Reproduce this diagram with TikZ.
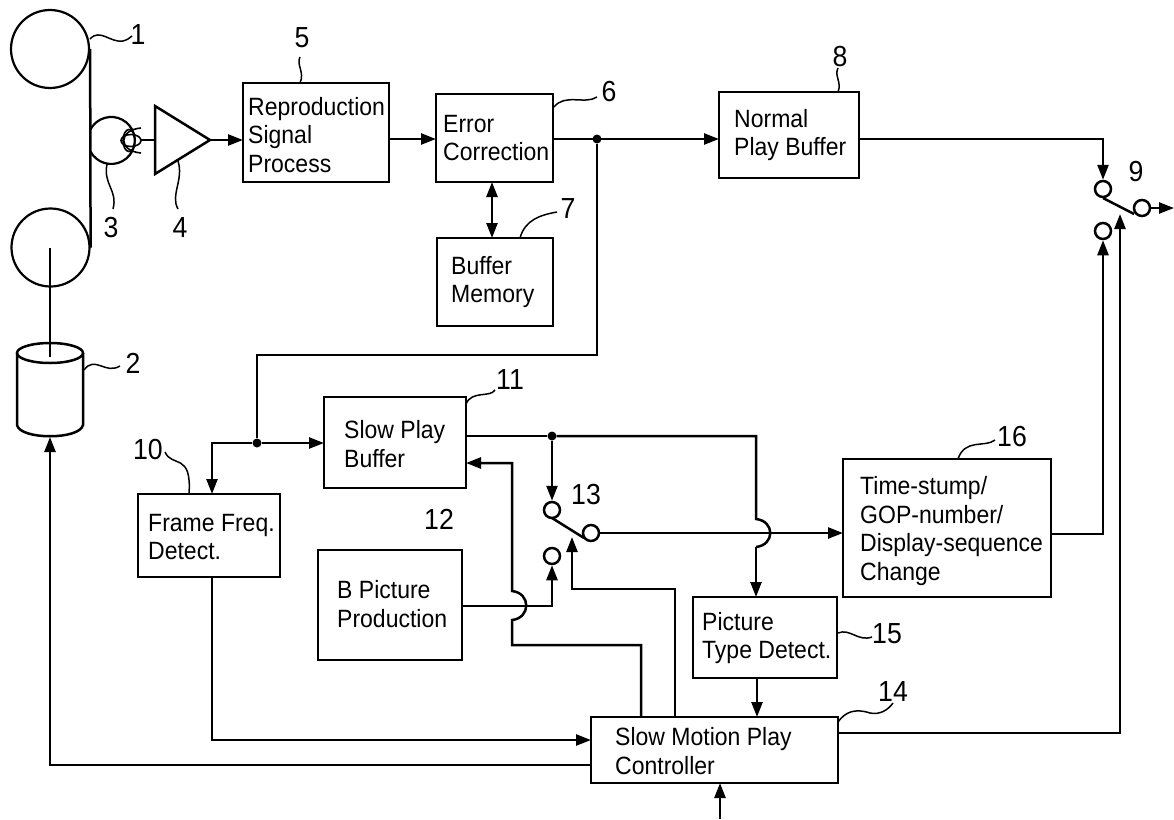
\documentclass[tikz,border=0pt]{standalone}
\usepackage{fontspec}
\setmainfont[FakeStretch=0.92]{Liberation Sans}
\usetikzlibrary{arrows.meta}
\tikzset{
 box/.style={draw,line width=2.5pt,inner sep=0pt,outer sep=0pt,anchor=north west,text width=0pt},
 lab/.style={font=\fontsize{29}{30}\selectfont,inner sep=0pt},
 txt/.style={font=\fontsize{25}{28.5}\selectfont,align=left,inner sep=0pt,anchor=west},
 wire/.style={line width=2.5pt,-{Triangle[length=15pt,width=11pt]}},
 dwire/.style={line width=2.5pt,{Triangle[length=15pt,width=11pt]}-{Triangle[length=15pt,width=11pt]}},
 line/.style={line width=2.5pt},
 lead/.style={line width=1.5pt},
 term/.style={draw,circle,line width=2.5pt,minimum size=16pt,inner sep=0pt},
 dot/.style={fill,circle,minimum size=9pt,inner sep=0pt},
 reel/.style={draw,circle,line width=2.2pt,minimum size=78pt,inner sep=0pt},
}
\begin{document}
\begin{tikzpicture}[x=1pt,y=-1pt]
\useasboundingbox (0,0) rectangle (1174,819);
% boxes
\node[box,minimum width=146pt,minimum height=99pt] (b5) at (243,83) {};
\node[txt] (b5t) at (248,135) {Reproduction\\Signal\\Process};
\node[box,minimum width=117pt,minimum height=88pt] (b6) at (436,94) {};
\node[txt] (b6t) at (443,138) {Error\\Correction};
\node[box,minimum width=116pt,minimum height=88pt] (b7) at (437,238) {};
\node[txt] (b7t) at (451,282) {Buffer\\Memory};
\node[box,minimum width=140pt,minimum height=86pt] (b8) at (719,92) {};
\node[txt] (b8t) at (734,135) {Normal\\Play Buffer};
\node[box,minimum width=142pt,minimum height=91pt] (b11) at (324,397) {};
\node[txt] (b11t) at (344,444) {Slow Play\\Buffer};
\node[box,minimum width=144pt,minimum height=110pt] (b12) at (318,550) {};
\node[txt] (b12t) at (337,604) {B Picture\\Production};
\node[box,minimum width=142pt,minimum height=83pt] (b10) at (138,494) {};
\node[txt] (b10t) at (148,537) {Frame Freq.\\Detect.};
\node[box,minimum width=208pt,minimum height=138pt] (b16) at (843,459) {};
\node[txt] (b16t) at (860,531) {Time-stump/\\GOP-number/\\Display-sequence\\Change};
\node[box,minimum width=144pt,minimum height=81pt] (b15) at (693,597) {};
\node[txt] (b15t) at (702,638) {Picture\\Type Detect.};
\node[box,minimum width=247pt,minimum height=66pt] (b14) at (591,717) {};
\node[txt] (b14t) at (615,751) {Slow Motion Play\\Controller};
% reels and tape
\node[reel] (r1) at (50,49) {};
\node[reel] (r2) at (50.5,247.5) {};
\draw[line] (r1.east) -- (r2.east);
\coordinate (axle) at (50,248);
% head
\draw[line width=2.2pt] (90.5,151.5) arc[start angle=152,end angle=-152,radius=23.5];
\draw[line width=1.6pt] (141,128) .. controls (118,130) and (118,151) .. (141,153);
\draw[line width=1.6pt] (129,140.5) ellipse (6pt and 11pt);
\draw[line width=1.6pt] (131,140.5) ellipse (10pt and 6pt);
% amp
\draw[line,line join=miter] (155,106) -- (155,174) -- (210,140) -- cycle;
\coordinate (ampIn) at (155,140);
\coordinate (ampOut) at (210,140);
\coordinate (coil) at (141,140);
\draw[line] (coil) -- (ampIn);
\draw[wire] (ampOut) -- (b5.west |- ampOut);
% cylinder
\draw[line] (17,353) -- (17,425) .. controls (20,440) and (80,440) .. (83,425) -- (83,353);
\draw[line] (50,353) ellipse (33pt and 10pt);
\draw[line] (axle) -- (50,357);
% wires top
\draw[wire] (b5.east |- 0,139) -- (b6.west |- 0,139);
\node[dot] (j1) at (597,139) {};
\draw[wire] (b6.east |- j1) -- (b8.west |- j1);
\draw[dwire] (492,182) -- (492,238);
\node[dot] (j2) at (257,443) {};
\draw[line] (j1) |- (j2 |- 0,355) -- (j2);
\draw[wire] (j2) -- (b11.west |- j2);
\draw[wire] (j2) -| (212,494);
\node[dot] (j3) at (552,436) {};
\draw[line] (b11.east |- j3) -- (j3);
% switch 13
\node[term] (s13a) at (552,510) {};
\node[term] (s13b) at (552,556) {};
\node[term] (s13c) at (591,533) {};
\draw[line] (552,518) -- (584,538);
\draw[wire] (j3) -- (s13a.north);
\draw[wire] (b12.east |- 0,606) -- (552,606) -- (s13b.south);
% right branch with hop
\draw[line] (j3) -- (756,436) -- (756,519) .. controls (775,521) and (775,545) .. (756,547);
\draw[wire] (756,547) -- (756,597);
\draw[wire] (s13c.east) -- (b16.west |- s13c);
% controls
\draw[wire] (641,717) -- (641,645) -- (512,645) -- (512,620) .. controls (531,618) and (531,593) .. (512,591) -- (512,463) -- (b11.east |- 0,463);
\draw[wire] (675,717) -- (675,589) -- (572,589) -- (572,537);
\draw[wire] (757,678) -- (757,717);
\draw[wire] (212,577) -- (212,740) -- (b14.west |- 0,740);
\draw[wire] (b14.west |- 0,765) -- (50,765) -- (50,437);
\coordinate (ext) at (720,819);
\draw[wire] (ext) -- (720,783);
% switch 9
\node[term] (s9a) at (1103,189) {};
\node[term] (s9b) at (1103,231) {};
\node[term] (s9c) at (1142,208) {};
\draw[line] (1103,198) -- (1134,214);
\draw[wire] (b8.east |- 0,139) -- (1103,139) -- (s9a.north);
\draw[wire] (b16.east |- 0,534) -- (1103,534) -- (s9b.south);
\draw[wire] (b14.east |- 0,733) -- (1120,733) -- (1120,214);
\draw[wire] (s9c.east) -- (1174,208);
% labels
\node[lab] (l1) at (138,35) {1};
\draw[lead] (90,39) .. controls (100,28) and (110,43) .. (123,41) .. controls (127,40) and (130,38) .. (132,36);
\node[lab] (l2) at (133,363) {2};
\draw[lead] (84,370) .. controls (95,355) and (105,375) .. (120,366);
\node[lab] (l3) at (111,228) {3};
\draw[lead] (107,164) .. controls (103,185) and (118,190) .. (113,209);
\node[lab] (l4) at (180,228) {4};
\draw[lead] (178,161) .. controls (184,180) and (170,195) .. (178,209);
\node[lab] (l5) at (302,38) {5};
\draw[lead] (300,83) .. controls (305,72) and (296,65) .. (300,57);
\node[lab] (l6) at (609,92) {6};
\draw[lead] (554,107) .. controls (565,93) and (585,105) .. (597,97);
\node[lab] (l7) at (568,209) {7};
\draw[lead] (520,238) .. controls (525,220) and (540,215) .. (557,212);
\node[lab] (l8) at (840,57) {8};
\draw[lead] (838,92) .. controls (842,82) and (834,76) .. (838,68);
\node[lab] (l9) at (1136,172) {9};
\node[lab] (l10) at (148,450) {10};
\draw[lead] (165,452) .. controls (172,468) and (192,452) .. (189,494);
\node[lab] (l11) at (510,380) {11};
\draw[lead] (466,404) .. controls (472,390) and (490,398) .. (495,390);
\node[lab] (l12) at (439,519) {12};
\node[lab] (l13) at (586,495) {13};
\node[lab] (l14) at (893,692) {14};
\draw[lead] (838,722) .. controls (845,712) and (855,708) .. (870,713) .. controls (880,715) and (888,710) .. (893,703);
\node[lab] (l15) at (887,634) {15};
\draw[lead] (838,633) .. controls (850,628) and (858,642) .. (872,637);
\node[lab] (l16) at (1012,437) {16};
\draw[lead] (958,459) .. controls (965,438) and (985,448) .. (995,440);
\end{tikzpicture}
\end{document}
